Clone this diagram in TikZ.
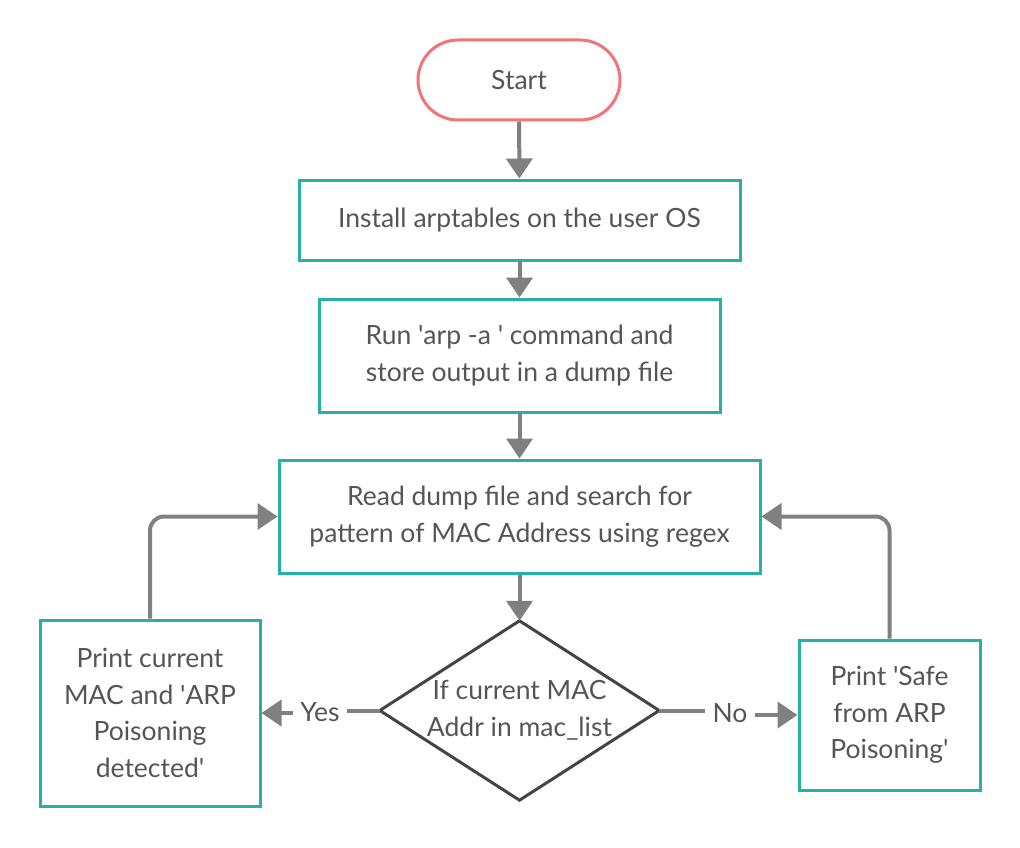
\documentclass[tikz,border=0pt]{standalone}
\usepackage{fontspec}
\setmainfont{Lato}
\usetikzlibrary{arrows.meta}
\definecolor{teal1}{RGB}{38,176,170}
\definecolor{salmon1}{RGB}{242,116,116}
\definecolor{arrgray}{RGB}{128,128,128}
\definecolor{txtgray}{RGB}{85,85,85}
\definecolor{dgray}{RGB}{68,68,68}
\newcommand{\sq}{\textquotesingle}
\tikzset{
  x=1pt,y=-1pt,
  every node/.style={font=\fontsize{26.5}{36.7}\selectfont, text=txtgray, align=center, inner sep=0pt},
  procbox/.style={draw=teal1, line width=3pt, fill=white},
  startbox/.style={draw=salmon1, line width=3pt, rounded corners=40pt, fill=white},
  conn/.style={draw=arrgray, line width=4pt},
  arr/.style={conn, -{Triangle[width=26pt,length=20pt]}},
  lbl/.style={inner sep=7pt},
}
\begin{document}
\begin{tikzpicture}
\useasboundingbox (0,0) rectangle (1020,848);
\node[startbox, minimum width=202, minimum height=80] (start) at (519,80) {Start};
\node[procbox, minimum width=441, minimum height=80] (b1) at (519.5,220) {Install arptables on the user OS};
\node[procbox, minimum width=401, minimum height=113] (b2) at (519.5,355.5) {Run \sq arp -a \sq\ command and\\store output in a dump file};
\node[procbox, minimum width=481, minimum height=113] (b3) at (519.5,516.5) {Read dump file and search for\\pattern of MAC Address using regex};
\node[minimum width=279, minimum height=179] (d) at (519.5,710.5) {If current MAC\\Addr in mac\_list};
\draw[dgray, line width=3pt, line join=miter] (d.north) -- (d.east) -- (d.south) -- (d.west) -- cycle;
\node[procbox, minimum width=220, minimum height=186] (lbox) at (150,713) {Print current\\MAC and \sq ARP\\Poisoning\\detected\sq};
\node[procbox, minimum width=181, minimum height=150] (rbox) at (889.5,715) {Print \sq Safe\\from ARP\\Poisoning\sq};
\node[lbl] (yes) at (320,712) {Yes};
\node[lbl] (no) at (730,713) {No};
\draw[arr] (start) -- (b1);
\draw[arr] (b1) -- (b2);
\draw[arr] (b2) -- (b3);
\draw[arr] (b3) -- (d.north);
\draw[conn] (d.west) -- (d.west -| yes.east);
\draw[arr] (yes.west |- lbox.east) -- (lbox.east);
\draw[conn] (d.east) -- (d.east -| no.west);
\draw[arr] (no.east |- rbox.west) -- (rbox.west);
\draw[arr, rounded corners=14pt] (lbox.north) |- (b3.west);
\draw[arr, rounded corners=14pt] (rbox.north) |- (b3.east);
\end{tikzpicture}
\end{document}
